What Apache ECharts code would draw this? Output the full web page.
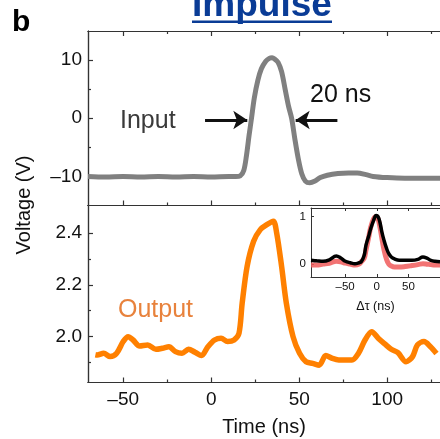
<!DOCTYPE html>
<html><head><meta charset="utf-8">
<script src="https://cdn.jsdelivr.net/npm/echarts@6/dist/echarts.min.js"></script>
<style>html,body{margin:0;padding:0;background:#fff}#c{width:440px;height:439px}</style>
</head><body><div id="c"></div>
<script>
// ---- data ----
const inputT = [-70,-60,-50,-40,-30,-20,-10,0,10,14,16.5,18.5,20,21.5,22.9,24.5,26.5,28.5,31,33,34.6,36,38,40,42,44,45.7,47.5,49.5,51.5,53.5,56,59,62,66,72,78,83,88,92,100,110,120,130];
const inputV = [-10.0,-10.1,-10.0,-10.1,-10.0,-10.1,-10.0,-10.1,-10.0,-10.0,-9.9,-9.0,-6.5,-3.0,0,3.5,6.5,8.5,9.8,10.3,10.4,10.2,9.6,8.0,5.0,2.0,0,-3.5,-7.0,-9.6,-10.8,-11.1,-10.8,-10.2,-9.8,-9.5,-9.4,-9.4,-9.7,-10.0,-10.2,-10.3,-10.3,-10.3];
const outputT = [-65.8,-64.8,-61.1,-57.4,-53.7,-50,-47.2,-44.4,-40.7,-36.1,-31.4,-27.7,-24,-20.3,-16.6,-12.9,-9.2,-5.5,-1.9,1.9,5.6,9.3,13,15.8,17.6,20.4,24.1,27.9,31.6,35.3,37.2,40,42.7,46.5,50.2,53.9,57.6,61.4,65.1,68.8,72.5,76.3,80,83.7,87.4,91.2,94.9,98.6,102.3,106.1,110.7,114.4,117.2,120.9,124.6,128];
const outputV = [1.93,1.929,1.936,1.923,1.936,1.981,2.0,1.987,1.964,1.968,1.951,1.955,1.961,1.942,1.936,1.951,1.94,1.927,1.961,1.987,1.994,1.981,1.987,2.013,2.129,2.271,2.368,2.413,2.432,2.445,2.4,2.271,2.129,2.0,1.936,1.903,1.897,1.89,1.927,1.916,1.91,1.91,1.91,1.936,1.987,2.019,1.994,1.972,1.951,1.938,1.903,1.923,1.968,1.981,1.961,1.935];
const insetT = [-104,-95,-85,-75,-64,-57,-49.5,-42,-34.5,-28,-24.5,-20,-17,-13,-9.5,-5,-1,2,5,8,11.5,15.5,19,23,28,35.5,45,55.5,65,73,80,85.5,92,100];
const insetBlack = [0.08,0.07,0.06,0.09,0.17,0.13,0.06,0.03,0.01,0.03,0.05,0.18,0.4,0.58,0.75,0.92,1.02,1.0,0.88,0.68,0.5,0.33,0.22,0.15,0.11,0.08,0.08,0.08,0.1,0.15,0.12,0.08,0.06,0.05];
const insetRed = [-0.02,-0.02,0.0,0.02,0.06,0.05,0.02,0.0,-0.02,0.0,0.05,0.12,0.3,0.55,0.78,0.95,1.0,0.95,0.78,0.55,0.3,0.1,0.0,-0.04,-0.06,-0.06,-0.05,-0.03,-0.01,0.01,0.0,-0.01,-0.02,-0.02];
const mainXLabels = [-50,0,50,100];
const mainXMinor = [-25,25,75,125];
const topYLabels = [-10,0,10];
const topYMinor = [-5,5];
const botYLabels = [2.0,2.2,2.4];
const botYMinor = [1.9,2.1,2.3];
const insetXLabels = [-50,0,50];
const insetYLabels = [0,1];

const zip = (a,b) => a.map((v,i)=>[v,b[i]]);
const AX = '#333';
const dash = v => String(v).replace('-', '\u2013');
const FONT = 'Liberation Sans, Arial, sans-serif';

function xA(grid, pos, ticks, len, labels, extra) {
  return Object.assign({
    type:'value', gridIndex:grid, position:pos, min:-70, max:130,
    axisLine:{show:true, onZero:false, lineStyle:{color:AX, width:1.2}},
    axisTick:{show: ticks.length>0, inside:true, length:len, customValues:ticks, lineStyle:{color:AX,width:1.2}},
    axisLabel:{show: !!labels, customValues: labels||[], formatter: dash, color:'#111', fontSize:19, fontFamily:FONT, margin:8},
    splitLine:{show:false}
  }, extra||{});
}
function yA(grid, ticks, len, labels, min, max, fmt, extra) {
  return Object.assign({
    type:'value', gridIndex:grid, position:'left', min:min, max:max,
    axisLine:{show:true, onZero:false, lineStyle:{color:AX, width:1.2}},
    axisTick:{show:true, inside:true, length:len, customValues:ticks, lineStyle:{color:AX,width:1.2}},
    axisLabel:{show: !!labels, customValues: labels||[], formatter: fmt, color:'#111', fontSize:19, fontFamily:FONT, margin:6},
    splitLine:{show:false}
  }, extra||{});
}

const chart = echarts.init(document.getElementById('c'), null, {renderer:'canvas'});
chart.setOption({
  animation:false,
  backgroundColor:'#fff',
  grid:[
    {left:88, top:31, width:359, height:174.5},
    {left:88, top:205.5, width:359, height:177},
    {left:311, top:208, width:136, height:69, show:true, backgroundColor:'#fff', borderWidth:0}
  ],
  xAxis:[
    xA(0,'bottom',mainXLabels,5,null),
    xA(0,'bottom',mainXMinor,3,null),
    xA(0,'top',mainXLabels,5,null),
    xA(0,'top',mainXMinor,3,null),
    xA(1,'bottom',mainXLabels,5,mainXLabels,{name:'Time (ns)', nameLocation:'middle', nameGap:35, nameTextStyle:{fontSize:20, color:'#111', fontFamily:FONT}}),
    xA(1,'bottom',mainXMinor,3,null),
    xA(1,'top',[],3,null),
    {type:'value', gridIndex:2, position:'bottom', min:-104, max:100,
     axisLine:{show:true,onZero:false,lineStyle:{color:AX,width:1}},
     axisTick:{show:true,inside:true,length:3,customValues:insetXLabels,lineStyle:{color:AX}},
     axisLabel:{customValues:insetXLabels, formatter:dash, fontSize:11.5, color:'#111', fontFamily:FONT, margin:4},
     splitLine:{show:false},
     name:'\u0394\u03c4 (ns)', nameLocation:'middle', nameGap:23, nameTextStyle:{fontSize:12.5, color:'#111', fontFamily:FONT}},
    {type:'value', gridIndex:2, position:'top', min:-104, max:100,
     axisLine:{show:true,onZero:false,lineStyle:{color:AX,width:1}},
     axisTick:{show:true,inside:true,length:3,customValues:insetXLabels,lineStyle:{color:AX}},
     axisLabel:{show:false}, splitLine:{show:false}}
  ],
  yAxis:[
    yA(0,topYLabels,5,topYLabels,-15,15,dash),
    yA(0,topYMinor,3,null,-15,15,dash),
    yA(1,botYLabels,5,botYLabels,1.823,2.506,v=>Number(v).toFixed(1)),
    yA(1,botYMinor,3,null,1.823,2.506,v=>v),
    {type:'value', gridIndex:2, position:'left', min:-0.27, max:1.18,
     axisLine:{show:true,onZero:false,lineStyle:{color:AX,width:1}},
     axisTick:{show:true,inside:true,length:3,customValues:insetYLabels,lineStyle:{color:AX}},
     axisLabel:{customValues:insetYLabels, fontSize:11.5, color:'#111', fontFamily:FONT, margin:5},
     splitLine:{show:false}}
  ],
  series:[
    {type:'line', xAxisIndex:0, yAxisIndex:0, data:zip(inputT,inputV), showSymbol:false, smooth:0.3,
     lineStyle:{color:'#808080', width:5}, z:3,
     markLine:{silent:true, symbol:['none','arrow'], symbolSize:14, label:{show:false},
       lineStyle:{color:'#111', width:3, type:'solid'},
       data:[[{coord:[-3.5,-0.3]},{coord:[20.5,-0.3]}],[{coord:[71.7,-0.3]},{coord:[48,-0.3]}]]}},
    {type:'line', xAxisIndex:4, yAxisIndex:2, data:zip(outputT,outputV), showSymbol:false, smooth:0.3,
     lineStyle:{color:'#ff8000', width:5.5}, z:3},
    {type:'line', xAxisIndex:7, yAxisIndex:4, data:zip(insetT,insetRed), showSymbol:false, smooth:0.4,
     lineStyle:{color:'#f05a5a', width:5, opacity:0.85}, z:4},
    {type:'line', xAxisIndex:7, yAxisIndex:4, data:zip(insetT,insetBlack), showSymbol:false, smooth:0.4,
     lineStyle:{color:'#000', width:3.5}, z:5}
  ],
  graphic:[
    {type:'text', style:{text:'b', x:12, y:23, fill:'#000', font:'bold 30px '+FONT, textVerticalAlign:'middle'}},
    {type:'text', style:{text:'Impulse', x:262, y:6, fill:'#0a3c96', font:'bold 37px '+FONT, textAlign:'center', textVerticalAlign:'middle'}},
    {type:'rect', shape:{x:192, y:20.5, width:140, height:2.5}, style:{fill:'#0a3c96'}},
    {type:'text', style:{text:'Input', x:120, y:121.5, fill:'#3a3a3a', font:'25px '+FONT, textVerticalAlign:'middle'}},
    {type:'text', style:{text:'20 ns', x:310, y:95, fill:'#111', font:'25px '+FONT, textVerticalAlign:'middle'}},
    {type:'text', style:{text:'Output', x:118, y:310, fill:'#e8823c', font:'25px '+FONT, textVerticalAlign:'middle'}},
    {type:'text', rotation:Math.PI/2, x:24, y:205, style:{text:'Voltage (V)', x:0, y:0, fill:'#111', font:'20px '+FONT, textAlign:'center', textVerticalAlign:'middle'}}
  ]
});
</script></body></html>
